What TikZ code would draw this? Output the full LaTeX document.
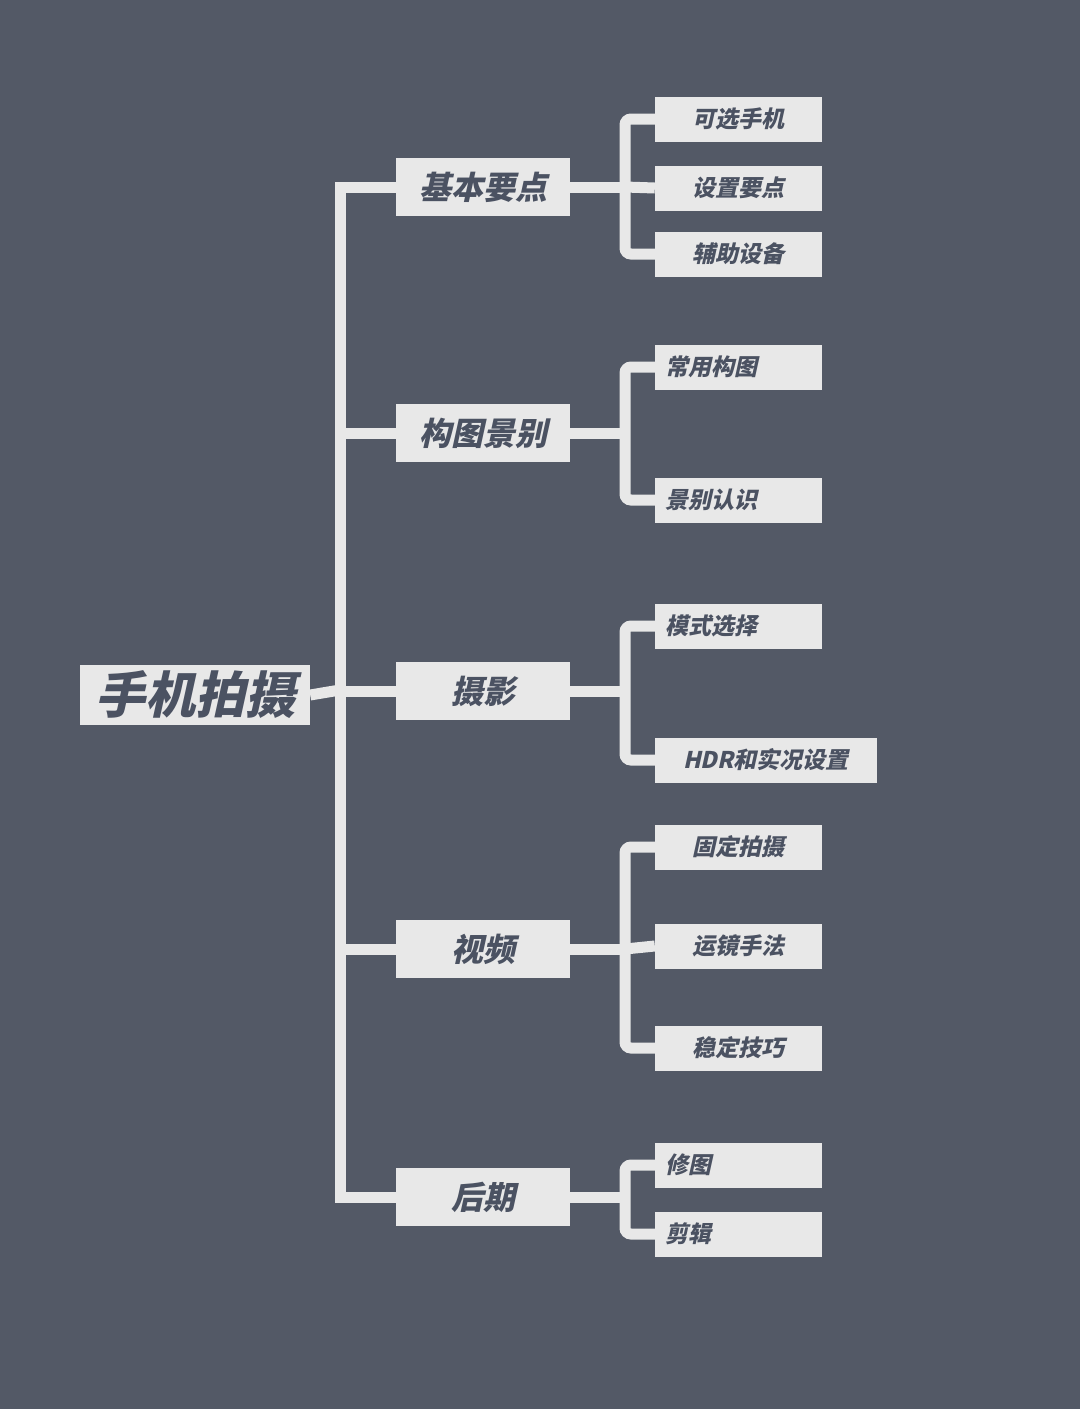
\documentclass[tikz,border=0pt]{standalone}
\usepackage{fontspec}
\newfontfamily\cjk[FakeSlant=0.22]{Noto Sans CJK SC}
\definecolor{bg}{HTML}{535966}
\definecolor{lt}{HTML}{E8E8E8}
\definecolor{tx}{HTML}{4B5262}
\begin{document}
\begin{tikzpicture}[x=1pt,y=-1pt,
  ln/.style={draw=lt,line width=11pt},
  root/.style={fill=lt,text=tx,minimum width=230pt,minimum height=60pt,inner sep=0pt,font=\cjk\bfseries\fontsize{50}{50}\selectfont},
  lone/.style={fill=lt,text=tx,minimum width=174pt,minimum height=58pt,inner sep=0pt,font=\cjk\bfseries\fontsize{32}{32}\selectfont},
  ltwo/.style={fill=lt,text=tx,minimum width=167pt,minimum height=45pt,inner sep=0pt,font=\cjk\bfseries\fontsize{23}{23}\selectfont}]
\fill[bg] (0,0) rectangle (1080,1409);
\useasboundingbox (0,0) rectangle (1080,1409);
% trunk
\coordinate (t0) at (340,187);
\coordinate (t1) at (340,1197);
\coordinate (tr) at (340,690);
\draw[ln,line cap=rect] (t0) -- (t1);
\node[root] (r) at (195,695) {手机拍摄};
\draw[ln] (r.east) -- (tr);
% level 1
\foreach \n/\y in {a/187,b/433,c/691,d/949,e/1197}{
  \coordinate (T\n) at (340,\y);
  \coordinate (B\n) at (625,\y);
}
\node[lone] (a) at (483,187) {基本要点};
\node[lone] (b) at (483,433) {构图景别};
\node[lone] (c) at (483,691) {摄影};
\node[lone] (d) at (483,949) {视频};
\node[lone] (e) at (483,1197) {后期};
\foreach \n in {a,b,c,d,e}{ \draw[ln] (T\n) -- (\n.west); }
% children
\node[ltwo] (a1) at (738.5,119) {可选手机};
\node[ltwo] (a2) at (738.5,188) {设置要点};
\node[ltwo] (a3) at (738.5,254) {辅助设备};
\node[ltwo,text width=147pt,align=left] (b1) at (738.5,367) {常用构图};
\node[ltwo,text width=147pt,align=left] (b2) at (738.5,500) {景别认识};
\node[ltwo,text width=147pt,align=left] (c1) at (738.5,626) {模式选择};
\node[ltwo,minimum width=222pt] (c2) at (766,760) {HDR和实况设置};
\node[ltwo] (d1) at (738.5,847) {固定拍摄};
\node[ltwo] (d2) at (738.5,946) {运镜手法};
\node[ltwo] (d3) at (738.5,1048) {稳定技巧};
\node[ltwo,text width=147pt,align=left] (e1) at (738.5,1165) {修图};
\node[ltwo,text width=147pt,align=left] (e2) at (738.5,1234) {剪辑};
% connectors
\foreach \p/\q/\r in {a/a1/a3,b/b1/b2,c/c1/c2,d/d1/d3,e/e1/e2}{
  \draw[ln] (\p.east) -- (B\p);
  \draw[ln,rounded corners=6pt] (\q.west) -| (B\p) |- (\r.west);
}
\draw[ln] (Ba) -- (a2.west);
\draw[ln] (Bd) -- (d2.west);
\end{tikzpicture}
\end{document}
